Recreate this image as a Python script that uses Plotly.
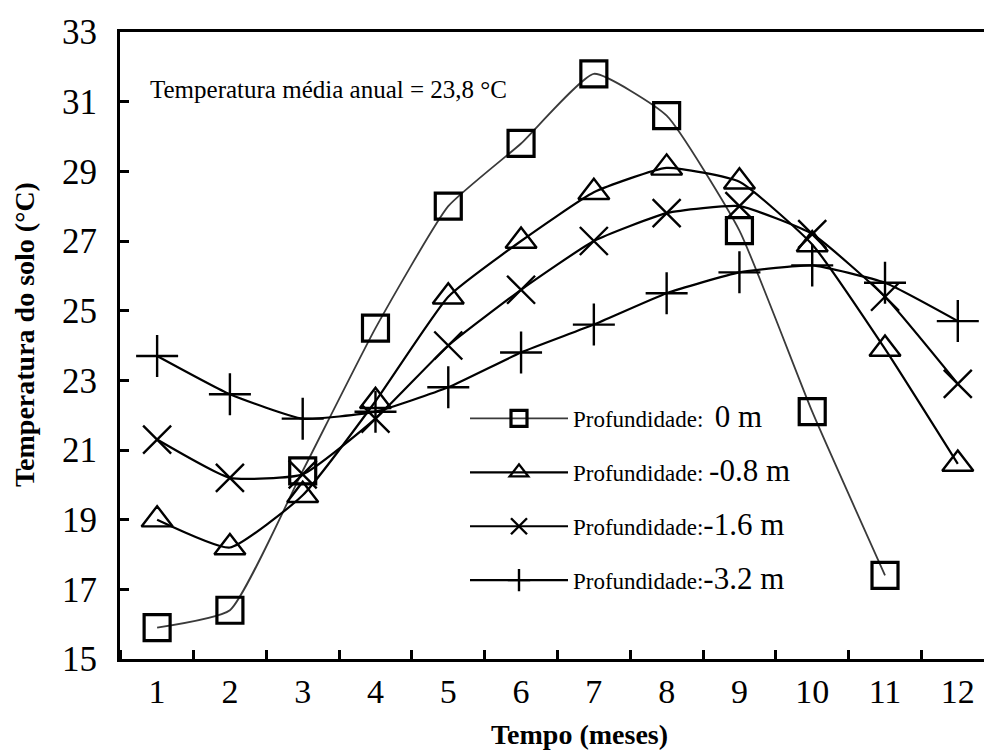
import plotly.graph_objects as go

# Soil temperature by month at four depths
meses = list(range(1, 13))
prof_0m = [15.9, 16.4, 20.4, 24.5, 28.0, 29.8, 31.8, 30.6, 27.3, 22.1, 17.4]
prof_08m = [19.0, 18.2, 19.7, 22.4, 25.4, 27.0, 28.4, 29.1, 28.7, 26.9, 23.9, 20.6]
prof_16m = [21.3, 20.2, 20.3, 21.9, 24.0, 25.6, 27.0, 27.8, 28.0, 27.2, 25.4, 22.9]
prof_32m = [23.7, 22.6, 21.9, 22.1, 22.8, 23.8, 24.6, 25.5, 26.1, 26.3, 25.8, 24.7]

nomes = [
    "Profundidade:  <span style='font-size:31px'>0 m</span>",
    "Profundidade: <span style='font-size:31px'>-0.8 m</span>",
    "Profundidade:<span style='font-size:31px'>-1.6 m</span>",
    "Profundidade:<span style='font-size:31px'>-3.2 m</span>",
]
y_ticks = list(range(15, 34, 2))
x_ticks = list(range(1, 13))

SERIF = "Liberation Serif, Times New Roman, serif"

series = [
    (prof_0m, nomes[0], "square-open", 26, 3.2, "#3a3a3a", 1.8),
    (prof_08m, nomes[1], "triangle-up-open", 27, 2.4, "black", 2.2),
    (prof_16m, nomes[2], "x-thin-open", 28, 2.4, "black", 2.2),
    (prof_32m, nomes[3], "cross-thin-open", 30, 2.4, "black", 2.2),
]

fig = go.Figure()
for i, (vals, nome, simbolo, tam, lw, cor, larg) in enumerate(series):
    fig.add_trace(go.Scatter(
        x=meses[:len(vals)], y=vals, name=nome,
        mode="lines+markers",
        line=dict(color=cor, width=larg, shape="spline", smoothing=0.45),
        marker=dict(symbol=simbolo, size=tam, color="black",
                    line=dict(color="black", width=lw)),
        legendgroup=f"g{i}",
    ))

fig.update_layout(
    width=984, height=753,
    margin=dict(l=120, r=0, t=32, b=94),
    paper_bgcolor="white", plot_bgcolor="white",
    font=dict(family=SERIF, color="black"),
    showlegend=True,
    legend=dict(
        x=(465 - 120) / 864, y=(659 - 397) / 627,
        xanchor="left", yanchor="top",
        bgcolor="rgba(0,0,0,0)", borderwidth=0,
        font=dict(family=SERIF, size=23, color="black"),
        itemwidth=98, tracegroupgap=21, traceorder="grouped",
    ),
    xaxis=dict(
        range=[0.49, 12.36],
        tickmode="array", tickvals=x_ticks, ticktext=[str(v) for v in x_ticks],
        ticks="", showgrid=False, zeroline=False,
        showline=True, linecolor="black", linewidth=3, mirror=True,
        tickfont=dict(family=SERIF, size=34, color="black"),
        ticklabelstandoff=0,
        minor=dict(tick0=0.5, dtick=1, ticks="inside", ticklen=9,
                   tickwidth=3, tickcolor="black", showgrid=False),
    ),
    yaxis=dict(
        range=[15, 33],
        tickmode="array", tickvals=y_ticks, ticktext=[str(v) for v in y_ticks],
        ticks="inside", ticklen=9, tickwidth=3, tickcolor="black",
        showgrid=False, zeroline=False,
        showline=True, linecolor="black", linewidth=3, mirror=False,
        tickfont=dict(family=SERIF, size=35, color="black"),
        ticklabelstandoff=13,
    ),
    annotations=[
        dict(text="Temperatura média anual = 23,8 °C", x=(148 - 120) / 864,
             y=(659 - 90) / 627, xref="paper", yref="paper",
             xanchor="left", yanchor="middle", showarrow=False,
             font=dict(family=SERIF, size=25, color="black")),
        dict(text="<b>Tempo (meses)</b>", x=(579 - 120) / 864,
             y=-(735 - 659) / 627, xref="paper", yref="paper",
             xanchor="center", yanchor="middle", showarrow=False,
             font=dict(family=SERIF, size=28, color="black")),
        dict(text="<b>Temperatura do solo (°C)</b>", x=(24 - 120) / 864,
             y=(659 - 335) / 627, xref="paper", yref="paper",
             xanchor="center", yanchor="middle", showarrow=False, textangle=-90,
             font=dict(family=SERIF, size=28, color="black")),
    ],
)

fig.write_html("out.html")
